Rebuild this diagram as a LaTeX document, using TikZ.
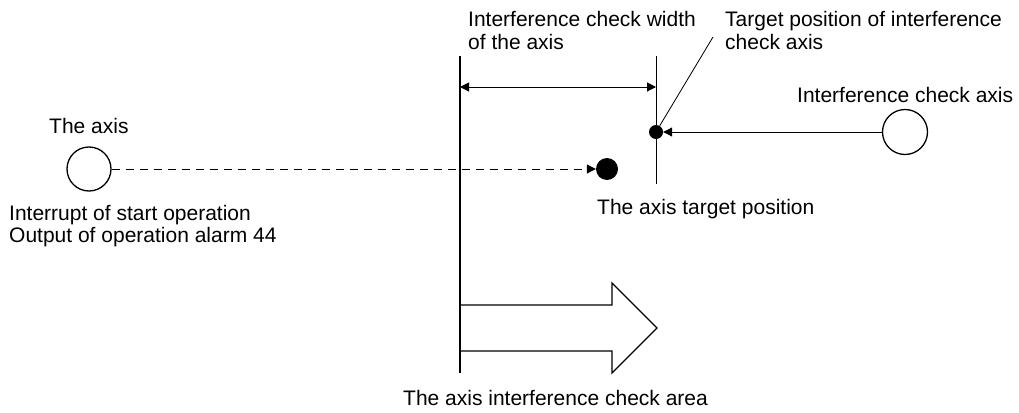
\documentclass[tikz,border=0pt]{standalone}
\usepackage{fontspec}
\setmainfont{Liberation Sans}
\usetikzlibrary{arrows.meta}
\begin{document}
\begin{tikzpicture}[x=1pt,y=-1pt,
  lbl/.style={inner sep=0pt, anchor=base west, font=\fontsize{21}{22}\selectfont},
  ring/.style={circle, draw, line width=1.3pt, inner sep=0pt, minimum size=#1},
  blob/.style={circle, fill, inner sep=0pt, minimum size=#1},
  thin/.style={line width=1pt},
  tip/.style={-{Triangle[length=9pt,width=9pt]}},
  dtip/.style={{Triangle[length=9pt,width=9pt]}-{Triangle[length=9pt,width=9pt]}},
  dashline/.style={line width=1pt, dash pattern=on 8pt off 6pt}
]
\useasboundingbox (0,0) rectangle (1019,412);
% nodes
\node[ring=44pt] (ax) at (89,169) {};
\node[blob=22pt] (tp) at (607,169) {};
\node[blob=14pt] (tg) at (656,132) {};
\node[ring=45pt] (ic) at (905,132) {};
% coordinates
\coordinate (ldr) at (713,37);
\coordinate (vt) at (460,56);
\coordinate (vb) at (460,373);
\coordinate (tt) at (656,56);
\coordinate (tb) at (656,184);
\coordinate (w1) at (460,87);
\coordinate (w2) at (656,87);
% lines
\draw[line width=2.5pt] (vt) -- (vb);
\draw[thin] (tt) -- (tb);
\draw[thin, dtip] (w1) -- (w2);
\draw[dashline, tip] (ax) -- (tp);
\draw[thin, tip] (ic) -- (tg);
\draw[line width=0.8pt] (tg) -- (ldr);
% block arrow
\draw[line width=1.2pt, line join=miter]
  (460,305) -- (612,305) -- (612,283) -- (657,328) -- (612,373) -- (612,351) -- (460,351);
% labels
\node[lbl] (t1) at (49,133) {The axis};
\node[lbl] (t2) at (9,220) {Interrupt of start operation};
\node[lbl] (t3) at (9,242) {Output of operation alarm 44};
\node[lbl] (t4) at (468,27) {Interference check width};
\node[lbl] (t5) at (468,49) {of the axis};
\node[lbl] (t6) at (725,27) {Target position of interference};
\node[lbl] (t7) at (725,49) {check axis};
\node[lbl] (t8) at (797,102) {Interference check axis};
\node[lbl] (t9) at (597,214) {The axis target position};
\node[lbl] (t10) at (403,405) {The axis interference check area};
\end{tikzpicture}
\end{document}
